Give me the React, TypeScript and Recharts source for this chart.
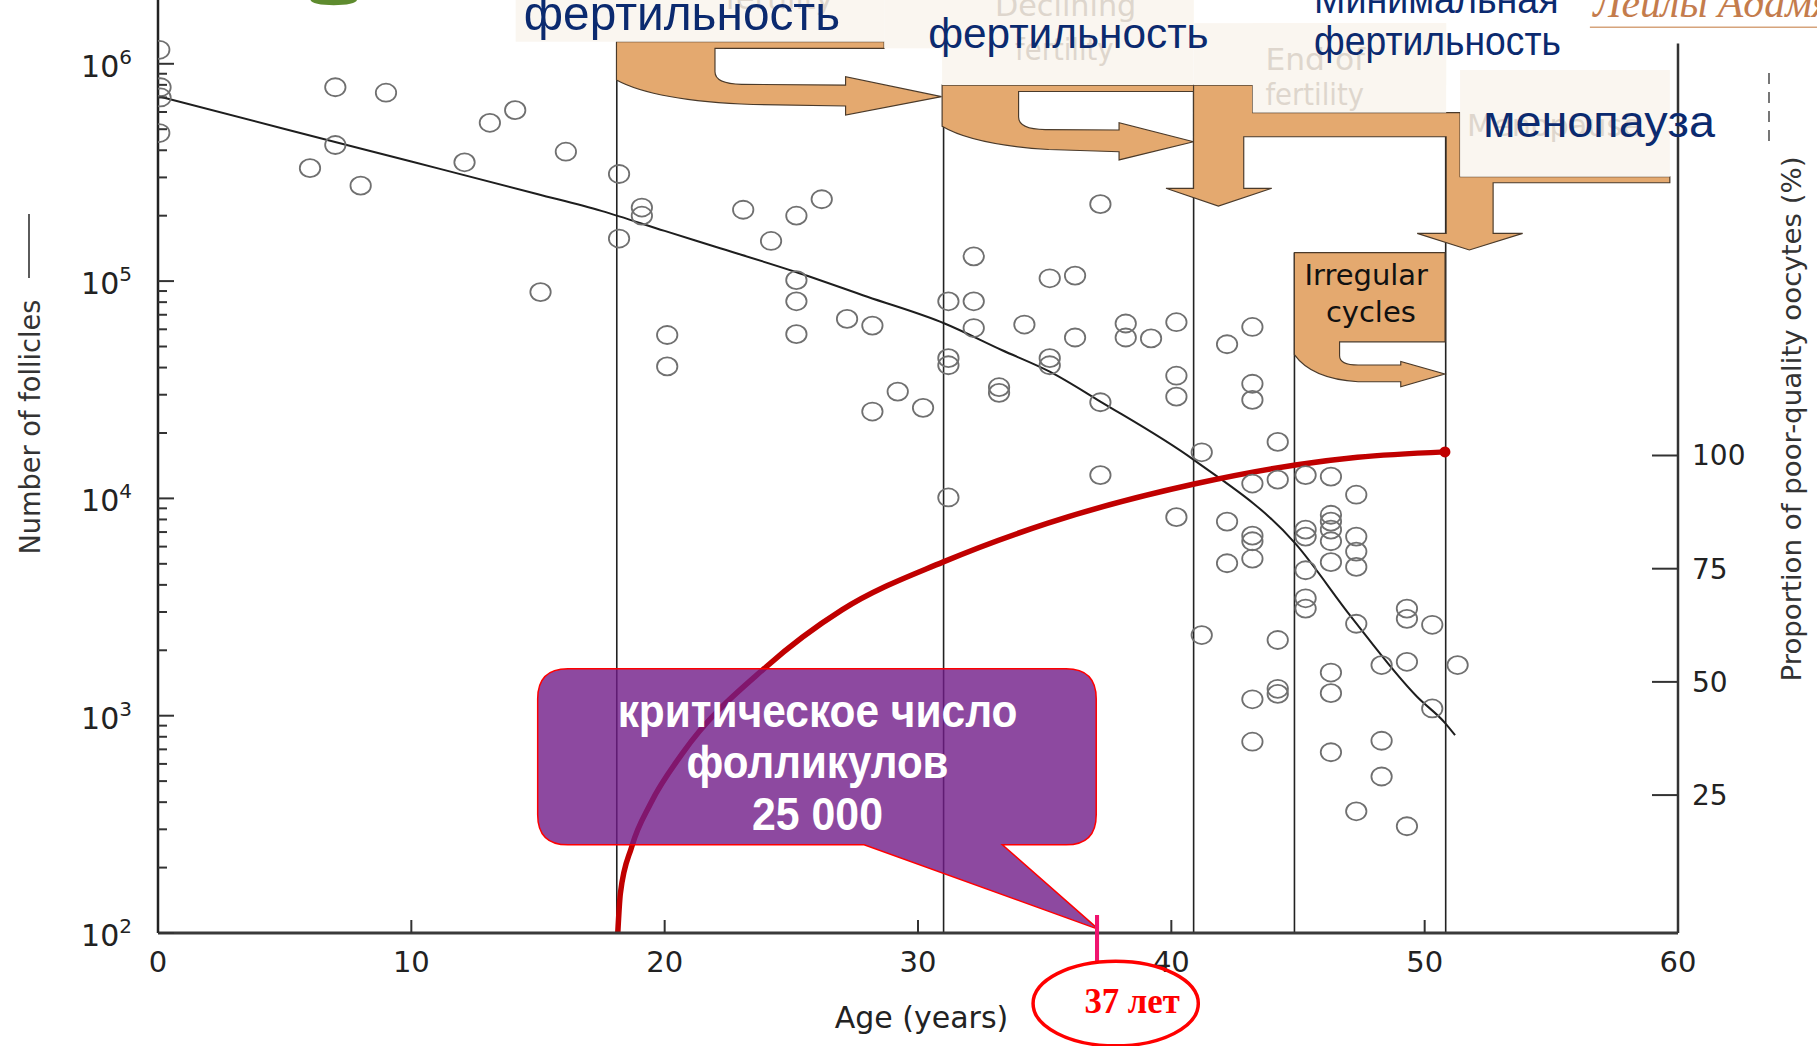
import React from 'react';
import { ComposedChart, XAxis, YAxis, Scatter, Line, ReferenceLine } from 'recharts';

const W = 1817;
const H = 1046;
const PLOT_LEFT = 158;
const PLOT_RIGHT = 1678;
const PLOT_BOTTOM = 933;
// the annotation layer was measured on a 1568px wide copy of the slide
const S = 1817 / 1568;

// follicle counts per ovary pair (open circles)
const pointAges = [
  0.05, 0.1, 0.1, 0.05, 7.0, 9.0, 13.1, 14.1, 7.0, 6.0,
  8.0, 12.1, 16.1, 18.2, 19.1, 19.1, 18.2, 15.1, 20.1, 20.1,
  23.1, 25.2, 26.2, 24.2, 25.2, 25.2, 25.2, 27.2, 28.2, 32.2,
  35.2, 36.2, 37.2, 31.2, 32.2, 32.2, 34.2, 36.2, 38.2, 38.2,
  39.2, 40.2, 42.2, 43.2, 31.2, 31.2, 35.2, 35.2, 29.2, 28.2,
  30.2, 33.2, 33.2, 37.2, 40.2, 40.2, 43.2, 43.2, 44.2, 41.2,
  43.2, 44.2, 31.2, 37.2, 40.2, 42.2, 43.2, 43.2, 42.2, 43.2,
  41.2, 44.2, 44.2, 44.2, 43.2, 43.2, 45.3, 46.3, 47.3, 45.3,
  45.3, 46.3, 46.3, 46.3, 46.3, 47.3, 47.3, 47.3, 45.3, 46.3,
  45.3, 45.3, 47.3, 49.3, 49.3, 50.3, 48.3, 49.3, 51.3, 46.3,
  46.3, 50.3, 48.3, 46.3, 48.3, 47.3, 49.3,
];
const pointCounts = [
  1160000, 780000, 700000, 480000, 780000, 736000, 535000, 612000, 423000, 331000,
  275000, 352000, 394000, 311000, 218000, 200000, 157000, 89000, 56500, 40500,
  213000, 200000, 238000, 153000, 101000, 80700, 57000, 67000, 62400, 130000,
  103000, 106000, 226000, 80700, 80700, 60800, 63100, 55000, 63800, 55000,
  54500, 64700, 51200, 61500, 44200, 41000, 44200, 41000, 31000, 25100,
  26100, 32500, 30600, 27700, 36700, 29400, 33700, 28400, 18200, 16300,
  11700, 12200, 10100, 12800, 8200, 7820, 6740, 6350, 5030, 5280,
  2350, 2230, 1330, 1260, 1190, 759, 12800, 12600, 10400, 7180,
  6670, 8410, 7820, 7180, 6350, 6670, 5690, 4840, 4670, 5090,
  3470, 3110, 2650, 3110, 2790, 2620, 1710, 1770, 1710, 1580,
  1270, 1080, 767, 679, 525, 363, 310,
];

// fitted decline curve
const fitAges = [0, 5, 10, 15, 17.5, 20, 22, 25.15, 28, 31.05, 33.3, 35.2, 37.2, 40.9, 44.9, 47.1, 49.7, 50.8, 51.2];
const fitCounts = [
  710000, 501000, 355000, 251000, 210400, 170200, 143900, 110400, 84700, 63800,
  48200, 38300, 27900, 15000, 6190, 2850, 1222, 927, 813,
];

// proportion of poor-quality oocytes, % (red curve)
const poorAges = [18.15, 18.25, 18.7, 19.45, 20.7, 24.0, 27.0, 31.0, 35.1, 40.9, 44.9, 47.35, 50.8];
const poorPct = [-5.4, 3.2, 13.6, 23.2, 34.2, 53.3, 65.9, 76.5, 85.0, 93.7, 97.9, 99.6, 100.8];

const ageTicks = [0, 10, 20, 30, 40, 50, 60];
const decadeTicks = [100, 1000, 10000, 100000, 1000000];
const minorSteps = [2, 3, 4, 5, 6, 7, 8, 9];
const pctTicks = [25, 50, 75, 100];

// phase boundaries: age and the follicle level where each line stops
const phaseAges = [18.11, 31.01, 40.88, 44.86, 50.83];
const phaseTops = [1263000, 798000, 798000, 135100, 596000];

const countDomain: [number, number] = [100, 1966000];
const pctDomain: [number, number] = [-5.46, 200.6];

const points = pointAges.map((age, i) => ({ age, count: pointCounts[i] }));
const fit = fitAges.map((age, i) => ({ age, count: fitCounts[i] }));
const poor = poorAges.map((age, i) => ({ age, pct: poorPct[i] }));
const countTicks = decadeTicks
  .flatMap((d) => [d, ...minorSteps.map((k) => k * d)])
  .filter((v) => v <= countDomain[1]);

const AXIS_FONT = 'DejaVu Sans';
const RU_FONT = 'Liberation Sans, Arial, sans-serif';
const NAVY = '#0b2a6f';
const ORANGE = '#e4a96f';
const CREAM = '#faf6f0';
const FAINT = '#ded6cd';

const CountTick = (props: any) => {
  const { y, payload } = props;
  const v = payload.value;
  const major = decadeTicks.includes(v);
  return (
    <g>
      <line x1={PLOT_LEFT} x2={PLOT_LEFT + (major ? 16 : 9)} y1={y} y2={y} stroke="#333" strokeWidth={2} />
      {major && (
        <text x={132} y={y + 13} textAnchor="end" fontFamily={AXIS_FONT} fontSize={30} fill="#222">
          10<tspan dy={-13} fontSize={20}>{Math.round(Math.log10(v))}</tspan>
        </text>
      )}
    </g>
  );
};

const AgeTick = (props: any) => {
  const { x, payload } = props;
  const v = payload.value;
  return (
    <g>
      {v > 0 && v < 60 && (
        <line x1={x} x2={x} y1={PLOT_BOTTOM} y2={PLOT_BOTTOM - 13} stroke="#333" strokeWidth={2} />
      )}
      <text x={x} y={PLOT_BOTTOM + 39} textAnchor="middle" fontFamily={AXIS_FONT} fontSize={29} fill="#222">
        {v}
      </text>
    </g>
  );
};

const PctTick = (props: any) => {
  const { y, payload } = props;
  return (
    <g>
      <line x1={PLOT_RIGHT - 26} x2={PLOT_RIGHT} y1={y} y2={y} stroke="#333" strokeWidth={2} />
      <text x={PLOT_RIGHT + 14} y={y + 10} fontFamily={AXIS_FONT} fontSize={28} fill="#222">
        {payload.value}
      </text>
    </g>
  );
};

const Circle = (props: any) => (
  <ellipse cx={props.cx} cy={props.cy} rx={10.2} ry={9} fill="none" stroke="#707070" strokeWidth={1.8} />
);

const EndDot = (props: any) => {
  if (props.index !== poor.length - 1) return <g key={`d${props.index}`} />;
  return <circle key={`d${props.index}`} cx={props.cx} cy={props.cy} r={5.5} fill="#c00000" />;
};

const Overlay = () => (
  <svg width={W} height={H} style={{ position: 'absolute', left: 0, top: 0, pointerEvents: 'none' }}>
    {/* axis titles */}
    <text transform="translate(30,427) rotate(-90)" textAnchor="middle" dominantBaseline="central"
      fontFamily={AXIS_FONT} fontSize={28} fill="#333" textLength={255} lengthAdjust="spacingAndGlyphs">
      Number of follicles
    </text>
    <line x1={29} x2={29} y1={214} y2={278} stroke="#333" strokeWidth={1.6} />
    <text transform="translate(1791,419) rotate(-90)" textAnchor="middle" dominantBaseline="central"
      fontFamily={AXIS_FONT} fontSize={27} fill="#333" textLength={525} lengthAdjust="spacingAndGlyphs">
      Proportion of poor-quality oocytes (%)
    </text>
    <line x1={1769} x2={1769} y1={73} y2={145} stroke="#555" strokeWidth={1.6} strokeDasharray="11 8" />
    <text x={921.5} y={1028} textAnchor="middle" fontFamily={AXIS_FONT} fontSize={30} fill="#222">
      Age (years)
    </text>

    <g transform={`scale(${S})`}>
      <ellipse cx={288} cy={0} rx={20} ry={4.5} fill="#5e8b2e" />

      {/* phase arrows */}
      <g fill={ORANGE} stroke="#4a3a2a" strokeWidth={1}>
        <path d="M532,36 H763 V41.7 H617 V62 Q617,72.5 640,72.8 L729.7,73.4 V66.2 L812.5,83.4 L729.7,99.2 V91.5 L650,90.2 Q565,87 532,69 Z" />
        <path d="M813,73.4 H1030 V79 H879 V101 Q879,111.6 902,111.8 L965.7,112.2 V105.9 L1030,122.3 L965.7,138 V130.9 L905,129 Q840,125 813,109 Z" />
        <path d="M1030,73.4 H1081 V97.2 H1260 V152.5 H1441 V157.7 H1288.5 V201.4 H1314 L1268,215.7 L1223,201.4 H1248 V118 H1073.3 V162.5 H1097.5 L1051.4,177.8 L1006.2,162.5 H1030 Z" />
        <path d="M1117,218 H1247 V295 H1156 V307 Q1156,315 1172,315 L1208.8,315 V312 L1246.8,322.8 L1208.8,333.7 V329.4 L1172,329.4 Q1132,327 1117,306 Z" />
      </g>
      <text x={1179} y={246} textAnchor="middle" fontFamily={AXIS_FONT} fontSize={25} fill="#111">Irregular</text>
      <text x={1183} y={277.6} textAnchor="middle" fontFamily={AXIS_FONT} fontSize={25} fill="#111">cycles</text>

      {/* cream label patches */}
      <g fill={CREAM}>
        <rect x={445} y={-1} width={318} height={37} />
        <rect x={763} y={-1} width={267} height={42.7} />
        <rect x={813} y={-1} width={217} height={74.4} />
        <rect x={1030} y={20} width={218} height={53.4} />
        <rect x={1081} y={20} width={167} height={77.2} />
        <rect x={1260} y={60.4} width={181} height={92.1} />
      </g>
      <g fontFamily={AXIS_FONT} fontSize={26} fill={FAINT}>
        <text x={626} y={8}>fertility</text>
        <text x={858.6} y={14} textLength={122} lengthAdjust="spacingAndGlyphs">Declining</text>
        <text x={876} y={52} textLength={85} lengthAdjust="spacingAndGlyphs">fertility</text>
        <text x={1092} y={60} textLength={86} lengthAdjust="spacingAndGlyphs">End of</text>
        <text x={1092} y={91} textLength={85} lengthAdjust="spacingAndGlyphs">fertility</text>
        <text x={1266} y={117} textLength={150} lengthAdjust="spacingAndGlyphs">Menopause</text>
      </g>
      <g fontFamily={RU_FONT} fill={NAVY}>
        <text x={452} y={26} fontSize={42} textLength={273} lengthAdjust="spacingAndGlyphs">фертильность</text>
        <text x={801} y={41.7} fontSize={37} textLength={242} lengthAdjust="spacingAndGlyphs">фертильность</text>
        <text x={1134} y={11.5} fontSize={35} textLength={211} lengthAdjust="spacingAndGlyphs">Минимальная</text>
        <text x={1134} y={47.5} fontSize={35} textLength={213} lengthAdjust="spacingAndGlyphs">фертильность</text>
        <text x={1280} y={118} fontSize={39} textLength={200} lengthAdjust="spacingAndGlyphs">менопауза</text>
      </g>

      {/* logo */}
      <text x={1375} y={15} fontFamily="Liberation Serif, serif" fontStyle="italic" fontSize={36} fill="#c47c4c">
        Лейлы Адамян
      </text>
      <line x1={1372} x2={1568} y1={23.6} y2={23.6} stroke="#d6a47c" strokeWidth={1.3} />

      {/* callout */}
      <path
        d="M490,577 H920 Q946,577 946,603 V703 Q946,729 920,729 H865 L948,802 L745.7,729 H490 Q464,729 464,703 V603 Q464,577 490,577 Z"
        fill="#701c88" fillOpacity={0.8} stroke="#ff0000" strokeWidth={1.3}
      />
      <g fontFamily={RU_FONT} fontWeight="bold" fontSize={40} fill="#ffffff" textAnchor="middle">
        <text x={705.5} y={627} textLength={345} lengthAdjust="spacingAndGlyphs">критическое число</text>
        <text x={705.5} y={671.7} textLength={226} lengthAdjust="spacingAndGlyphs">фолликулов</text>
        <text x={705.5} y={716.3} textLength={113} lengthAdjust="spacingAndGlyphs">25 000</text>
      </g>
      <line x1={946.7} x2={946.7} y1={789.6} y2={830} stroke="#f0136f" strokeWidth={3.5} />
      <ellipse cx={962.8} cy={866} rx={71.3} ry={36.5} fill="none" stroke="#ff0000" strokeWidth={3} />
      <text x={977} y={874} textAnchor="middle" fontFamily="Liberation Serif, serif" fontWeight="bold"
        fontSize={30} fill="#ff0000">
        37 лет
      </text>
    </g>
  </svg>
);

export default function App() {
  return (
    <div style={{ position: 'absolute', left: 0, top: 0, width: W, height: H, background: '#fff' }}>
      <ComposedChart width={W} height={H} margin={{ top: 0, right: 0, bottom: 0, left: 0 }}>
        <XAxis
          dataKey="age"
          type="number"
          domain={[0, 60]}
          ticks={ageTicks}
          interval={0}
          height={113}
          tickLine={false}
          tick={AgeTick}
          axisLine={{ stroke: '#3a3a3a', strokeWidth: 3 }}
          allowDataOverflow
        />
        <YAxis
          yAxisId="n"
          width={158}
          type="number"
          scale="log"
          domain={countDomain}
          ticks={countTicks}
          interval={0}
          tickLine={false}
          tick={CountTick}
          axisLine={{ stroke: '#222', strokeWidth: 2.5 }}
          allowDataOverflow
        />
        <YAxis
          yAxisId="p"
          orientation="right"
          width={139}
          type="number"
          domain={pctDomain}
          ticks={pctTicks}
          interval={0}
          tickLine={false}
          axisLine={false}
          tick={PctTick}
          allowDataOverflow
        />
        {phaseAges.map((a, i) => (
          <ReferenceLine
            key={`ph${i}`}
            yAxisId="n"
            segment={[{ x: a, y: 100 }, { x: a, y: phaseTops[i] }]}
            stroke="#222"
            strokeWidth={1.6}
            ifOverflow="visible"
          />
        ))}
        <ReferenceLine
          yAxisId="p"
          segment={[{ x: 60, y: pctDomain[0] }, { x: 60, y: 191 }]}
          stroke="#333"
          strokeWidth={2.5}
          ifOverflow="visible"
        />
        <Scatter yAxisId="n" data={points} dataKey="count" shape={Circle} isAnimationActive={false} />
        <Line
          yAxisId="n"
          data={fit}
          dataKey="count"
          type="monotone"
          stroke="#1e1e1e"
          strokeWidth={2}
          dot={false}
          isAnimationActive={false}
        />
        <Line
          yAxisId="p"
          data={poor}
          dataKey="pct"
          type="monotone"
          stroke="#c00000"
          strokeWidth={5.5}
          strokeLinecap="round"
          dot={EndDot}
          activeDot={false}
          isAnimationActive={false}
        />
      </ComposedChart>
      <Overlay />
    </div>
  );
}
